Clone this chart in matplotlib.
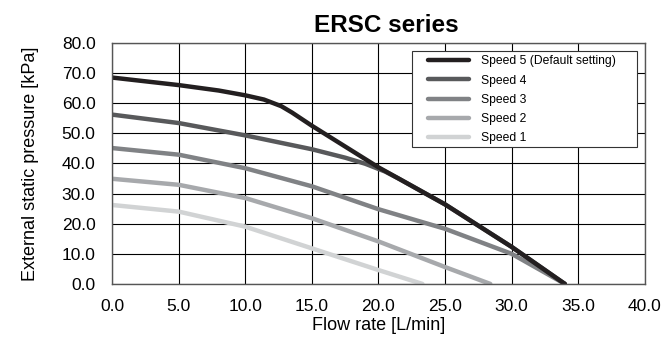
import matplotlib.pyplot as plt
from matplotlib.patches import Rectangle

plt.rcParams['font.family'] = ['Liberation Sans', 'DejaVu Sans']

# flow rate [L/min] and pressure [kPa]
flow5 = [0, 5, 8, 10, 11.4, 12.7, 13.5, 15, 17.5, 20, 25, 30, 34]
speed5 = [68.5, 66.0, 64.2, 62.6, 61.2, 59.0, 56.9, 52.5, 45.6, 38.7, 26.4, 12.3, 0]
flow4 = [0, 5, 10, 15, 17.5, 19, 20.5, 21.5, 25, 30, 34]
speed4 = [56.2, 53.4, 49.3, 44.7, 41.9, 39.9, 37.3, 35.0, 26.4, 12.3, 0]
flow3 = [0, 5, 10, 15, 20, 25, 30, 34]
speed3 = [45.1, 42.9, 38.4, 32.4, 24.8, 18.3, 10.0, 0]
flow2 = [0, 5, 10, 15, 20, 25, 28.4]
speed2 = [34.9, 32.9, 28.5, 21.8, 14.1, 5.6, 0]
flow1 = [0, 5, 10, 15, 20, 23.3]
speed1 = [26.2, 24.0, 19.0, 11.8, 4.6, 0]

fig = plt.figure(figsize=(6.64, 3.38), dpi=100)
ax = fig.add_axes([0.169, 0.160, 0.802, 0.713])

ax.plot(flow1, speed1, color='#d1d3d4', lw=3.2, solid_capstyle='round', label='Speed 1')
ax.plot(flow2, speed2, color='#a7a9ac', lw=3.2, solid_capstyle='round', label='Speed 2')
ax.plot(flow3, speed3, color='#808285', lw=3.2, solid_capstyle='round', label='Speed 3')
ax.plot(flow4, speed4, color='#58595b', lw=3.2, solid_capstyle='round', label='Speed 4')
ax.plot(flow5, speed5, color='#231f20', lw=3.2, solid_capstyle='round',
        label='Speed 5 (Default setting)')

ax.set_xlim(0, 40)
ax.set_ylim(0, 80)
ax.set_xticks(range(0, 41, 5))
ax.set_yticks(range(0, 81, 10))
ax.set_xticklabels(['%.1f' % v for v in range(0, 41, 5)], fontsize=12.5)
ax.set_yticklabels(['%.1f' % v for v in range(0, 81, 10)], fontsize=12.5)
ax.tick_params(axis='x', length=0, pad=11)
ax.tick_params(axis='y', length=0, pad=12)
ax.grid(True, color='black', lw=0.8)
ax.set_axisbelow(True)
for s in ax.spines.values():
    s.set_color('#555555')
    s.set_linewidth(1.0)

ax.set_xlabel('Flow rate [L/min]', fontsize=13, labelpad=2)
ax.set_ylabel('External static pressure [kPa]', fontsize=13, labelpad=16)
ax.set_title('ERSC series', fontsize=17.5, fontweight='bold', pad=8, x=0.515)

# legend box drawn separately so it can be wider than the entries
ax.add_patch(Rectangle((0.563, 0.568), 0.422, 0.399, transform=ax.transAxes,
                       facecolor='white', edgecolor='#333333', lw=0.8, zorder=4))
h, l = ax.get_legend_handles_labels()
leg = ax.legend(h[::-1], l[::-1], loc='upper left', bbox_to_anchor=(0.593, 0.948),
                fontsize=8.7, frameon=False, handlelength=3.4, handletextpad=1.0,
                borderpad=0, labelspacing=0.6, borderaxespad=0)
leg.set_zorder(5)

fig.savefig('out.png', dpi=100)
